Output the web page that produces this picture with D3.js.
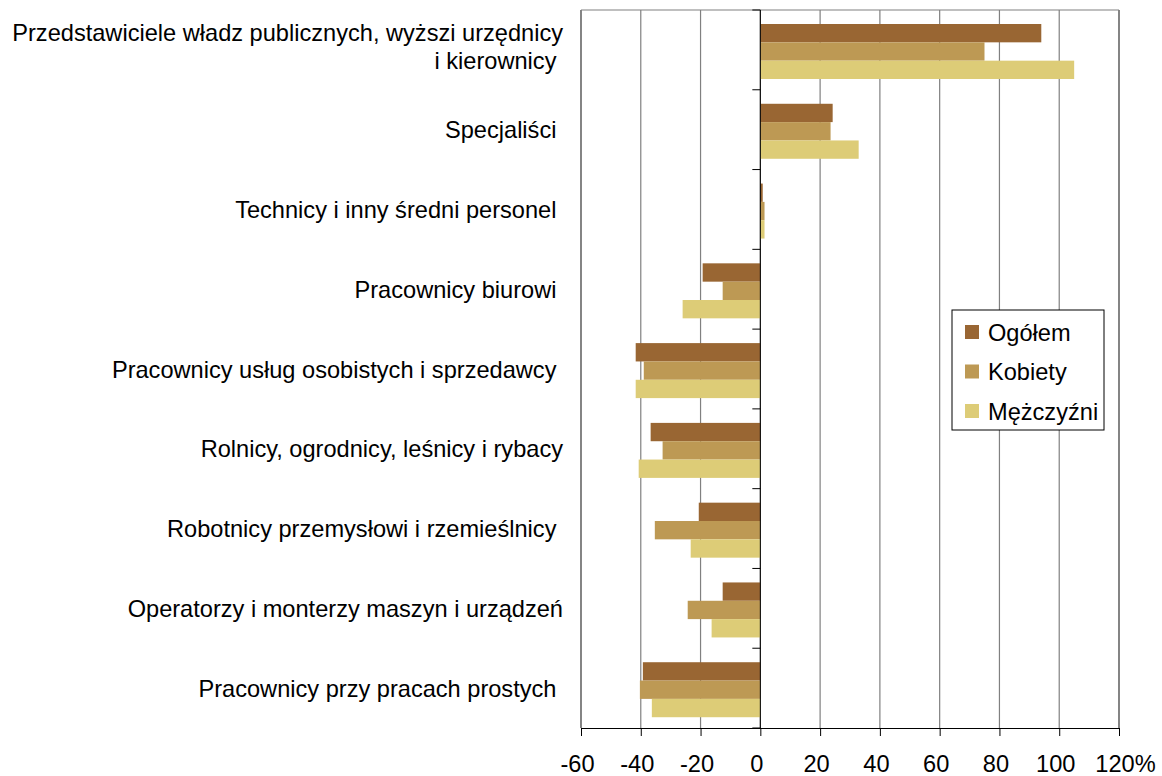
<!DOCTYPE html>
<html>
<head>
<meta charset="utf-8">
<script src="https://cdn.jsdelivr.net/npm/d3@7"></script>
<style>
  body { margin: 0; background: #fff; }
  text { font-family: "Liberation Sans", Arial, sans-serif; }
</style>
</head>
<body>
<svg id="chart" width="1162" height="776"></svg>
<script>
const categories = [
  ["Przedstawiciele władz publicznych, wyższi urzędnicy", "i kierownicy "],
  ["Specjaliści "],
  ["Technicy i inny średni personel "],
  ["Pracownicy biurowi "],
  ["Pracownicy usług osobistych i sprzedawcy "],
  ["Rolnicy, ogrodnicy, leśnicy i rybacy"],
  ["Robotnicy przemysłowi i rzemieślnicy "],
  ["Operatorzy i monterzy maszyn i urządzeń"],
  ["Pracownicy przy pracach prostych "]
];
const seriesNames = ["Ogółem", "Kobiety", "Mężczyźni"];
const ogolem    = [94, 24.2, 0.8, -19.3, -41.7, -36.7, -20.6, -12.6, -39.3];
const kobiety   = [75, 23.5, 1.4, -12.6, -39, -32.7, -35.3, -24.3, -40.3];
const mezczyzni = [105, 32.9, 1.4, -26, -41.7, -40.7, -23.3, -16.3, -36.3];
const xTicks = [-60, -40, -20, 0, 20, 40, 60, 80, 100, 120];

const seriesValues = [ogolem, kobiety, mezczyzni];
const colors = ["#996633", "#bd9954", "#ddcc77"];

const svg = d3.select("#chart");
const fontSize = 23.6;

const x = d3.scaleLinear().domain([-60, 120]).range([581, 1119]);
const y0 = d3.scaleBand().domain(d3.range(categories.length)).range([10, 728]);
const y1 = d3.scaleBand().domain(seriesNames).range([14, 69]);
const color = d3.scaleOrdinal().domain(seriesNames).range(colors);

// grid lines
svg.append("g")
  .selectAll("line")
  .data(xTicks)
  .join("line")
  .attr("x1", d => x(d)).attr("x2", d => x(d))
  .attr("y1", 10).attr("y2", 728)
  .attr("stroke", (d, i) => (i === 0 || i === xTicks.length - 1) ? "#333" : "#808080")
  .attr("stroke-width", 1.2);

svg.append("line")
  .attr("x1", x(-60)).attr("x2", x(120))
  .attr("y1", 10).attr("y2", 10)
  .attr("stroke", "#808080")
  .attr("stroke-width", 1.2);

// bars
const rows = categories.map((c, i) => ({
  i,
  values: seriesNames.map((s, k) => ({ s, v: seriesValues[k][i] }))
}));

const group = svg.append("g")
  .selectAll("g")
  .data(rows)
  .join("g")
  .attr("transform", d => `translate(0,${y0(d.i)})`);

group.selectAll("rect")
  .data(d => d.values)
  .join("rect")
  .attr("x", d => x(Math.min(0, d.v)))
  .attr("width", d => Math.abs(x(d.v) - x(0)))
  .attr("y", d => y1(d.s))
  .attr("height", y1.bandwidth())
  .attr("fill", d => color(d.s));

// zero axis with ticks
svg.append("line")
  .attr("x1", x(0)).attr("x2", x(0))
  .attr("y1", 10).attr("y2", 728)
  .attr("stroke", "#000")
  .attr("stroke-width", 1);

svg.append("g")
  .selectAll("line")
  .data(d3.range(categories.length + 1))
  .join("line")
  .attr("x1", x(0) - 8).attr("x2", x(0))
  .attr("y1", d => 10 + d * y0.bandwidth())
  .attr("y2", d => 10 + d * y0.bandwidth())
  .attr("stroke", "#000");

// bottom axis
const xAxis = svg.append("g")
  .attr("transform", "translate(0,728)")
  .call(d3.axisBottom(x).tickValues(xTicks).tickSize(8).tickPadding(19)
    .tickFormat(d => d === 120 ? "120%" : d));
xAxis.select(".domain").attr("stroke", "#000").attr("d", `M${x(-60)},0.5H${x(120)}`);
xAxis.selectAll(".tick line").attr("stroke", "#000");
xAxis.selectAll(".tick text")
  .attr("font-size", fontSize)
  .attr("font-family", "Liberation Sans, Arial, sans-serif")
  .attr("fill", "#000")
  .attr("dx", d => d === 120 ? 6 : -4);

// category labels
const labels = svg.append("g")
  .selectAll("text")
  .data(categories)
  .join("text")
  .attr("x", 563)
  .attr("text-anchor", "end")
  .attr("font-size", fontSize)
  .attr("fill", "#000")
  .style("white-space", "pre")
  .attr("y", (d, i) => y0(i) + y0.bandwidth() / 2 - (d.length - 1) * 17.5 + 8.5);

labels.selectAll("tspan")
  .data(d => d)
  .join("tspan")
  .attr("x", 563)
  .attr("dy", (d, i) => i === 0 ? 0 : 28)
  .text(d => d);

// legend
const legend = svg.append("g").attr("transform", "translate(952,310)");
legend.append("rect")
  .attr("width", 152).attr("height", 120)
  .attr("fill", "#fff").attr("stroke", "#000");

const items = legend.selectAll(".item")
  .data(seriesNames)
  .join("g")
  .attr("class", "item")
  .attr("transform", (d, i) => `translate(0,${22 + i * 39.5})`);

items.append("rect")
  .attr("x", 13).attr("y", -7)
  .attr("width", 14).attr("height", 14)
  .attr("fill", d => color(d));

items.append("text")
  .attr("x", 36).attr("y", 8.5)
  .attr("font-size", fontSize)
  .attr("fill", "#000")
  .text(d => d);
</script>
</body>
</html>
